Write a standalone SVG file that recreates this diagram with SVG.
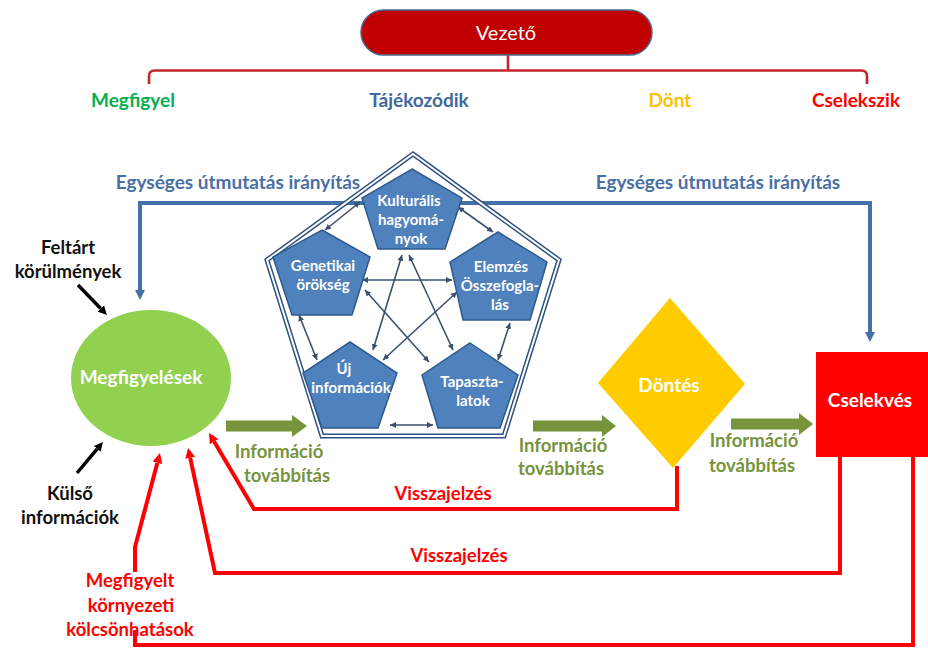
<svg xmlns="http://www.w3.org/2000/svg" width="928" height="648" viewBox="0 0 928 648">
<style>
text{font-family:Lato,"Open Sans","Liberation Sans",sans-serif;font-weight:bold;text-anchor:middle}
.hdr{font-size:19px}
.eg{font-size:19px;fill:#4A6FA5}
.blk{font-size:18.5px;fill:#111}
.inf{font-size:18.5px;fill:#77933C}
.red{font-size:18.5px;fill:#FF0000}
.pt{font-size:15px;fill:#fff}
.pent{fill:#4F81BD;stroke:#2F5A8E;stroke-width:1.5}
.link{fill:none;stroke:#3C506E;stroke-width:1.6;marker-start:url(#sm);marker-end:url(#sm)}
.bl{fill:none;stroke:#4472A8;stroke-width:4}
.rd{fill:none;stroke:#FF0000;stroke-width:4}
.ga{fill:#77933C}
</style>
<defs>
<marker id="sm" viewBox="0 0 10 10" refX="10" refY="5" markerWidth="6" markerHeight="6" markerUnits="userSpaceOnUse" orient="auto-start-reverse"><path d="M0,0L10,5L0,10z" fill="#3C506E"/></marker>
<marker id="ba" viewBox="0 0 10 10" refX="0" refY="5" markerWidth="10" markerHeight="12" markerUnits="userSpaceOnUse" orient="auto-start-reverse"><path d="M0,0L10,5L0,10z" fill="#4472A8"/></marker>
<marker id="ra" viewBox="0 0 10 10" refX="0" refY="5" markerWidth="10" markerHeight="11" markerUnits="userSpaceOnUse" orient="auto"><path d="M0,0L10,5L0,10z" fill="#FF0000"/></marker>
<marker id="ka" viewBox="0 0 10 10" refX="0" refY="5" markerWidth="9" markerHeight="10" markerUnits="userSpaceOnUse" orient="auto"><path d="M0,0L10,5L0,10z" fill="#000"/></marker>
</defs>
<rect width="928" height="648" fill="#fff"/>

<g id="connectors">
<path d="M508,55V70.5M149,84V76Q149,70.5 155,70.5H861Q867,70.5 867,76V84" fill="none" stroke="#C3262E" stroke-width="2.6"/>
<path class="bl" d="M140,290V203H870V332" marker-start="url(#ba)" marker-end="url(#ba)"/>
<path d="M78,285L100.7,308.5" fill="none" stroke="#000" stroke-width="3.5" marker-end="url(#ka)"/>
<path d="M77,473L97.2,448.9" fill="none" stroke="#000" stroke-width="3.5" marker-end="url(#ka)"/>
<path class="rd" d="M677,466V509H254L214.1,441.6" marker-end="url(#ra)"/>
<path class="rd" d="M840,457V573H215L190.2,457.8" marker-end="url(#ra)"/>
<path class="rd" d="M913,457V645H135V630"/>
<path class="rd" d="M135,572V547L157.4,462.7" marker-end="url(#ra)"/>
<polygon class="ga" points="226,420.5 292,420.5 292,415 307,426 292,437 292,431.5 226,431.5"/>
<polygon class="ga" points="533,420.5 602,420.5 602,415 616,426 602,437 602,431.5 533,431.5"/>
<polygon class="ga" points="731,418.5 799,418.5 799,413 813,424 799,435 799,429.5 731,429.5"/>
<g id="inner-links">
<line class="link" x1="360" y1="202" x2="325" y2="230"/>
<line class="link" x1="458" y1="207" x2="493" y2="232"/>
<line class="link" x1="362" y1="280" x2="452" y2="280"/>
<line class="link" x1="299" y1="315" x2="317" y2="360"/>
<line class="link" x1="510" y1="323" x2="498" y2="360"/>
<line class="link" x1="390" y1="425" x2="433" y2="425"/>
<line class="link" x1="402" y1="255" x2="373" y2="350"/>
<line class="link" x1="409" y1="255" x2="453" y2="350"/>
<line class="link" x1="365" y1="290" x2="429" y2="362"/>
<line class="link" x1="457" y1="292" x2="383" y2="360"/>
</g>
</g>

<g id="vezeto">
<rect x="361" y="10" width="291" height="45" rx="22.5" fill="#C00000" stroke="#4A6A90" stroke-width="1.5"/>
<text x="506" y="40" style="font-size:20px;font-weight:normal;fill:#fff">Vezető</text>
</g>
<g id="labels">
<text class="hdr" x="133" y="107" fill="#00B050">Megfigyel</text>
<text class="hdr" x="419" y="107" fill="#41679B">Tájékozódik</text>
<text class="hdr" x="670" y="107" fill="#FFC000">Dönt</text>
<text class="hdr" x="856" y="107" fill="#FF0000">Cselekszik</text>
<text class="eg" x="238" y="189">Egységes útmutatás irányítás</text>
<text class="eg" x="718" y="189">Egységes útmutatás irányítás</text>
<text class="blk" x="68" y="254">Feltárt</text>
<text class="blk" x="68" y="278">körülmények</text>
<text class="blk" x="70" y="500">Külső</text>
<text class="blk" x="70" y="524">információk</text>
<text class="inf" x="279" y="458">Információ</text>
<text class="inf" x="287" y="482">továbbítás</text>
<text class="inf" x="563" y="452">Információ</text>
<text class="inf" x="561" y="475">továbbítás</text>
<text class="inf" x="754" y="447">Információ</text>
<text class="inf" x="752" y="472">továbbítás</text>
<text class="red" x="443" y="500">Visszajelzés</text>
<text class="red" x="459" y="562">Visszajelzés</text>
<text class="red" x="130" y="587">Megfigyelt</text>
<text class="red" x="131" y="612">környezeti</text>
<text class="red" x="130" y="636">kölcsönhatások</text>
</g>

<g id="megfigyelesek">
<ellipse cx="151" cy="378" rx="80" ry="68" fill="#92D050"/>
<text x="141" y="384" style="font-size:19px;fill:#fff">Megfigyelések</text>
</g>

<g id="orientacio">
<polygon points="413,154 559,260 504,436 322,436 267,260" fill="none" stroke="#2F5180" stroke-width="5" stroke-linejoin="miter"/>
<polygon points="413,154 559,260 504,436 322,436 267,260" fill="none" stroke="#fff" stroke-width="2"/>
</g>
<g id="kulturalis">
<polygon class="pent" points="412,169 462,198 445,249 378,249 362,198"/>
<text class="pt" x="409" y="206">Kulturális</text>
<text class="pt" x="411" y="225">hagyomá-</text>
<text class="pt" x="411" y="244">nyok</text>
</g>
<g id="genetikai">
<polygon class="pent" points="322,230 370,257 352,315 292,315 273,257"/>
<text class="pt" x="323" y="271">Genetikai</text>
<text class="pt" x="323" y="290">örökség</text>
</g>
<g id="elemzes">
<polygon class="pent" points="498,232 547,262 530,320 463,320 450,262"/>
<text class="pt" x="501" y="272">Elemzés</text>
<text class="pt" x="500" y="291">Összefogla-</text>
<text class="pt" x="500" y="310">lás</text>
</g>
<g id="uj">
<polygon class="pent" points="350,342 397,373 378,428 322,428 303,373"/>
<text class="pt" x="344" y="374">Új</text>
<text class="pt" x="351" y="393">információk</text>
</g>
<g id="tapasztalatok">
<polygon class="pent" points="470,343 518,375 500,428 438,428 422,375"/>
<text class="pt" x="472" y="387">Tapaszta-</text>
<text class="pt" x="473" y="406">latok</text>
</g>
<g id="dontes">
<polygon points="670,298 745,384 673,468 598,383" fill="#FFCC00"/>
<text x="669" y="392" style="font-size:19px;fill:#fff">Döntés</text>
</g>
<g id="cselekves">
<rect x="816" y="352" width="112" height="105" fill="#FF0000"/>
<text x="870" y="407" style="font-size:19px;fill:#fff">Cselekvés</text>
</g>
</svg>
